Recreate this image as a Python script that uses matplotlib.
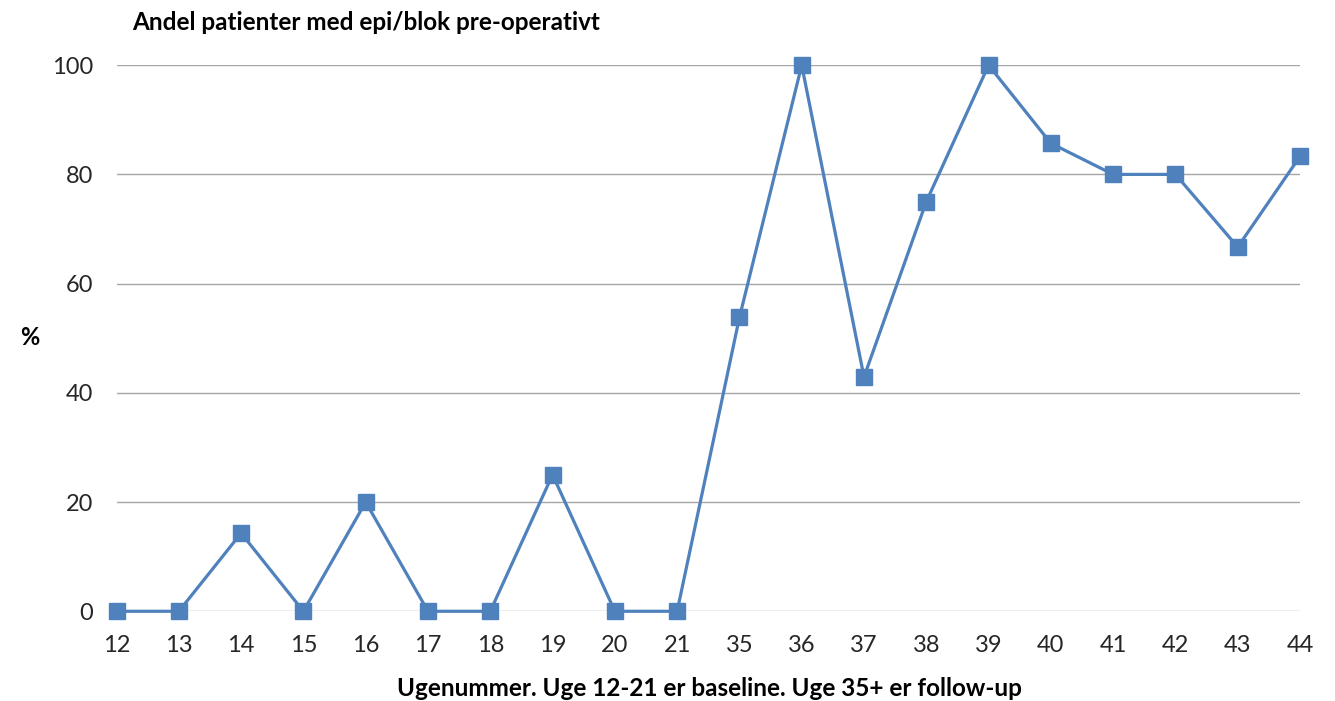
import matplotlib
matplotlib.use('Agg')
import matplotlib.pyplot as plt

weeks = ['12', '13', '14', '15', '16', '17', '18', '19', '20', '21',
         '35', '36', '37', '38', '39', '40', '41', '42', '43', '44']
pct = [0, 0, 14.3, 0, 20, 0, 0, 25, 0, 0,
       53.8, 100, 42.9, 75, 100, 85.7, 80, 80, 66.7, 83.3]

plt.rcParams['font.family'] = ['Lato', 'DejaVu Sans']

fig = plt.figure(figsize=(13.35, 7.01), dpi=100)
ax = fig.add_axes([0.0873, 0.128, 0.8865, 0.779])

x = list(range(len(weeks)))
ax.plot(x, pct, color='#4F81BD', lw=2.3, marker='s', markersize=11,
        clip_on=False, zorder=3)

ax.set_xlim(0, len(weeks) - 1)
ax.set_ylim(0, 100)
ax.set_yticks([0, 20, 40, 60, 80, 100])
ax.set_xticks(x)
ax.set_xticklabels(weeks)
ax.tick_params(axis='both', length=0, labelsize=17, colors='#262626')
ax.tick_params(axis='x', pad=17)
ax.tick_params(axis='y', pad=17)
ax.grid(axis='y', color='#A6A6A6', lw=1)
ax.set_axisbelow(True)
for s in ax.spines.values():
    s.set_visible(False)

fig.text(0.099, 1 - 22 / 701, 'Andel patienter med epi/blok pre-operativt',
         fontsize=17.5, fontweight='bold', ha='left', va='center')
fig.text(30 / 1335, 1 - 338 / 701, '%', fontsize=17, fontweight='bold',
         ha='center', va='center')
fig.text(709 / 1335, 1 - 688 / 701,
         'Ugenummer. Uge 12-21 er baseline. Uge 35+ er follow-up',
         fontsize=17.5, fontweight='bold', ha='center', va='center')

fig.savefig('out.png', dpi=100)
